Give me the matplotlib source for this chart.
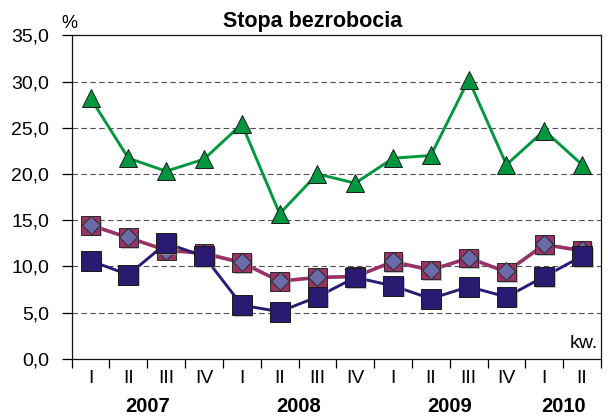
import numpy as np
import matplotlib
matplotlib.use('Agg')
import matplotlib.pyplot as plt
from matplotlib.ticker import FixedLocator, FuncFormatter
import matplotlib.transforms as mtransforms
import matplotlib.patheffects as pe

plt.rcParams['font.family'] = ['Liberation Sans', 'DejaVu Sans']

# data
quarters = ['I', 'II', 'III', 'IV', 'I', 'II', 'III', 'IV', 'I', 'II', 'III', 'IV', 'I', 'II']
years = ['2007', '2008', '2009', '2010']
year_span = [(0, 3), (4, 7), (8, 11), (12, 13)]

green_vals = [28.2, 21.7, 20.3, 21.6, 25.4, 15.7, 20.0, 19.0, 21.7, 22.0, 30.2, 21.0, 24.7, 21.0]
navy_vals = [10.6, 9.1, 12.5, 11.1, 5.8, 5.1, 6.7, 8.8, 7.9, 6.5, 7.8, 6.7, 8.9, 11.1]
maroon_vals = [14.45, 13.1, 11.75, 11.4, 10.4, 8.4, 8.8, 8.9, 10.5, 9.6, 10.9, 9.4, 12.35, 11.7]
diamond_vals = [14.5, 13.15, 11.7, 11.5, 10.45, 8.45, 8.85, 8.9, 10.55, 9.65, 10.95, 9.45, 12.4, 11.75]

x = np.arange(len(quarters))

fig = plt.figure(figsize=(6.08, 4.16), dpi=100)
ax = fig.add_axes([0.1179, 0.1375, 0.9885 - 0.1179, 0.9151 - 0.1375])

# gridlines
for v in [5, 10, 15, 20, 25, 30]:
    ax.axhline(v, color='#505050', lw=0.8, dashes=(5, 3), zorder=1)

# marker shadow like the excel look
shadow = [pe.SimplePatchShadow(offset=(1.2, -1.2), shadow_rgbFace='#999999', alpha=0.6), pe.Normal()]

# maroon squares + lavender diamonds (drawn first, under navy)
ax.plot(x, diamond_vals, color='#8A84C4', lw=1.6, zorder=2)
ax.plot(x, maroon_vals, color='#993366', lw=2.6, zorder=2.5)
ax.plot(x, maroon_vals, ls='none', marker='s', ms=13.5,
        mfc='#993366', mec='#2a2a2a', mew=0.7, zorder=3, path_effects=shadow)
ax.plot(x, diamond_vals, ls='none', marker='D', ms=9.6,
        mfc='#6B6BAA', mec='#2a2a2a', mew=0.7, zorder=4)

# navy squares
ax.plot(x, navy_vals, color='#2B1A72', lw=2.1, zorder=4.5)
ax.plot(x, navy_vals, ls='none', marker='s', ms=14.3,
        mfc='#2B1A72', mec='#1a1a1a', mew=0.7, zorder=5, path_effects=shadow)

# green triangles
ax.plot(x, green_vals, color='#00963F', lw=2.1, zorder=5.5)
ax.plot(x, green_vals, ls='none', marker='^', ms=13.5,
        mfc='#00963F', mec='#1a1a1a', mew=0.7, zorder=6)

ax.set_xlim(-0.5, len(quarters) - 0.5)
ax.set_ylim(0, 35)

# y axis
ax.set_yticks(np.arange(0, 36, 5))
ax.yaxis.set_major_formatter(FuncFormatter(lambda v, p: ('%.1f' % v).replace('.', ',')))
ax.tick_params(axis='y', direction='out', length=7.2, width=0.9, pad=9, labelsize=14)

# x axis: boundaries as ticks, quarter labels in between
ax.set_xticks(x)
ax.set_xticklabels(quarters)
ax.xaxis.set_minor_locator(FixedLocator(np.arange(-0.5, len(quarters), 1.0)))
ax.tick_params(axis='x', which='major', length=0, pad=8, labelsize=14)
ax.tick_params(axis='x', which='minor', direction='out', length=6.5, width=0.9)

for s in ax.spines.values():
    s.set_linewidth(0.9)
    s.set_color('#111111')

trans = mtransforms.blended_transform_factory(ax.transData, ax.transAxes)
for yr, (a, b) in zip(years, year_span):
    ax.text((a + b) / 2.0, -0.1635, yr, transform=trans, ha='center', va='baseline',
            fontsize=14.5, fontweight='bold')

ax.text(0.9943, 0.0334, 'kw.', transform=ax.transAxes, ha='right', va='baseline', fontsize=14)

fig.text(313 / 608, 1 - 27 / 416, 'Stopa bezrobocia', ha='center', va='baseline',
         fontsize=15.5, fontweight='bold')
fig.text(69.5 / 608, 1 - 28 / 416, '%', ha='center', va='baseline', fontsize=13)

fig.savefig('out.png', dpi=100)
